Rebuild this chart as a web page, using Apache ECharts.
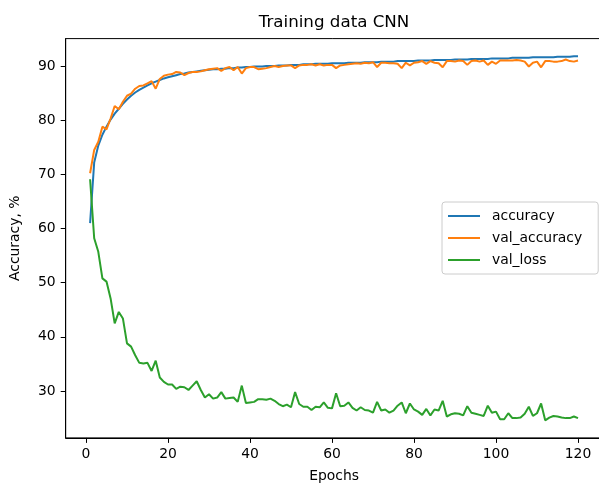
<!DOCTYPE html>
<html>
<head>
<meta charset="utf-8">
<title>Training data CNN</title>
<script src="https://cdn.jsdelivr.net/npm/echarts@6/dist/echarts.min.js"></script>
<style>
  html, body { margin: 0; padding: 0; background: #fff; }
  #chart { width: 599px; height: 485px; }
</style>
</head>
<body>
<div id="chart"></div>
<script>
// values, epochs 1..120
var accuracy = [
  61.0, 72.2, 75.3, 77.3, 78.8, 80.1, 81.2, 82.1, 83.0, 83.8,
  84.5, 85.1, 85.6, 86.0, 86.4, 86.8, 87.1, 87.4, 87.7, 87.9,
  88.1, 88.3, 88.5, 88.6, 88.8, 88.9, 89.0, 89.1, 89.2, 89.3,
  89.4, 89.4, 89.5, 89.5, 89.6, 89.6, 89.7, 89.7, 89.8, 89.8,
  89.9, 89.9, 89.9, 90.0, 90.0, 90.0, 90.1, 90.1, 90.1, 90.2,
  90.2, 90.2, 90.3, 90.3, 90.3, 90.4, 90.4, 90.4, 90.4, 90.5,
  90.5, 90.5, 90.5, 90.6, 90.6, 90.6, 90.6, 90.7, 90.7, 90.7,
  90.7, 90.8, 90.8, 90.8, 90.8, 90.9, 90.9, 90.9, 90.9, 90.9,
  91.0, 91.0, 91.0, 91.0, 91.1, 91.1, 91.1, 91.1, 91.1, 91.2,
  91.2, 91.2, 91.2, 91.3, 91.3, 91.3, 91.3, 91.3, 91.4, 91.4,
  91.4, 91.4, 91.4, 91.5, 91.5, 91.5, 91.5, 91.5, 91.6, 91.6,
  91.6, 91.6, 91.6, 91.6, 91.7, 91.7, 91.7, 91.7, 91.8, 91.8
];
var valAccuracy = [
  70.2, 74.5, 76.0, 78.8, 78.3, 80.3, 82.6, 82.0, 83.4, 84.5,
  84.9, 85.8, 86.3, 86.4, 86.8, 87.2, 85.8, 87.6, 88.2, 88.4,
  88.5, 88.9, 88.8, 88.3, 88.7, 88.9, 88.9, 89.0, 89.2, 89.4,
  89.5, 89.6, 89.1, 89.6, 89.8, 89.2, 89.8, 88.6, 89.6, 89.8,
  89.8, 89.4, 89.5, 89.6, 89.8, 90.0, 89.8, 90.0, 90.1, 90.1,
  89.6, 90.1, 90.2, 90.2, 90.3, 90.1, 90.3, 90.1, 90.2, 90.2,
  89.6, 90.1, 90.2, 90.3, 90.4, 90.5, 90.4, 90.6, 90.5, 90.7,
  89.8, 90.6, 90.6, 90.5, 90.5, 90.4, 89.6, 90.6, 90.1, 90.6,
  90.7, 90.9, 90.4, 90.9, 90.6, 90.5, 89.75, 90.9, 90.9, 90.8,
  91.0, 90.9, 90.2, 90.9, 91.0, 90.8, 91.0, 90.2, 90.8, 90.4,
  91.0, 91.0, 91.0, 91.0, 91.1, 91.0, 90.8, 89.9, 90.6, 90.8,
  89.75, 90.9, 90.9, 90.8, 90.8, 90.9, 91.2, 90.9, 90.8, 91.0
];
var valLoss = [
  69.1, 58.2, 55.7, 50.8, 50.2, 47.1, 42.5, 44.6, 43.4, 38.8,
  38.2, 36.6, 35.2, 35.1, 35.2, 33.7, 35.6, 32.5, 31.7, 31.2,
  31.2, 30.4, 30.8, 30.7, 30.2, 31.0, 31.8, 30.2, 28.8, 29.4,
  28.6, 28.8, 29.8, 28.6, 28.7, 28.8, 28.0, 31.0, 27.8, 27.9,
  28.0, 28.5, 28.5, 28.4, 28.6, 28.2, 27.6, 27.2, 27.5, 27.0,
  29.8, 27.6, 27.1, 27.1, 26.5, 27.1, 27.0, 27.9, 26.9, 26.8,
  29.6, 27.2, 27.3, 27.9, 26.9, 26.4, 27.0, 26.5, 26.4, 26.0,
  28.0, 26.4, 26.6, 26.0, 26.4, 27.3, 27.9, 25.9, 27.7, 26.6,
  26.2, 25.6, 26.7, 25.5, 26.6, 26.4, 28.2, 25.3, 25.7, 25.9,
  25.8, 25.5, 27.2, 26.0, 25.8, 25.6, 25.4, 27.3, 26.0, 26.2,
  24.8, 24.8, 25.9, 25.0, 25.0, 25.1, 25.8, 27.1, 25.4, 25.9,
  27.7, 24.6, 25.1, 25.4, 25.3, 25.1, 25.0, 25.0, 25.3, 25.0
];
var xTicks = [0, 20, 40, 60, 80, 100, 120];
var yTicks = [30, 40, 50, 60, 70, 80, 90];

function withEpochs(values) {
  return values.map(function (v, i) { return [i + 1, v]; });
}

var font = 'DejaVu Sans';
var chart = echarts.init(document.getElementById('chart'), null, { renderer: 'canvas' });

var option = {
  backgroundColor: '#ffffff',
  animation: false,
  color: ['#1f77b4', '#ff7f0e', '#2ca02c'],
  title: {
    text: 'Training data CNN',
    left: 334,
    top: 14,
    textAlign: 'center',
    padding: 0,
    textStyle: { fontFamily: font, fontSize: 16.7, fontWeight: 'normal', color: '#000' }
  },
  legend: {
    orient: 'vertical',
    left: 442,
    top: 202,
    padding: [7, 16, 7, 6],
    icon: 'rect',
    itemWidth: 32,
    itemHeight: 2,
    itemGap: 8,
    backgroundColor: 'rgba(255,255,255,0.8)',
    borderColor: '#cccccc',
    borderWidth: 1,
    borderRadius: 3,
    textStyle: { fontFamily: font, fontSize: 13.9, color: '#000', padding: [0, 0, 0, 7], lineHeight: 14 },
    data: ['accuracy', 'val_accuracy', 'val_loss']
  },
  grid: {
    left: 65.7,
    top: 38.6,
    width: 536.7,
    height: 399.3,
    outerBoundsMode: 'none',
    show: true,
    borderColor: '#000',
    borderWidth: 1
  },
  xAxis: {
    type: 'value',
    min: -4.95,
    max: 125.95,
    name: 'Epochs',
    nameLocation: 'middle',
    nameGap: 31,
    nameTextStyle: { fontFamily: font, fontSize: 13.9, color: '#000' },
    axisLine: { show: true, onZero: false, lineStyle: { color: '#000', width: 1 } },
    axisTick: { show: true, length: 5, lineStyle: { color: '#000' }, customValues: xTicks },
    axisLabel: { margin: 9, fontFamily: font, fontSize: 13.9, color: '#000', customValues: xTicks },
    splitLine: { show: false }
  },
  yAxis: {
    type: 'value',
    min: 21.35,
    max: 95.05,
    name: 'Accuracy, %',
    nameLocation: 'middle',
    nameGap: 43,
    nameTextStyle: { fontFamily: font, fontSize: 13.9, color: '#000' },
    axisLine: { show: true, onZero: false, lineStyle: { color: '#000', width: 1 } },
    axisTick: { show: true, length: 5, lineStyle: { color: '#000' }, customValues: yTicks },
    axisLabel: { margin: 10, fontFamily: font, fontSize: 13.9, color: '#000', customValues: yTicks },
    splitLine: { show: false }
  },
  series: [
    {
      name: 'accuracy',
      type: 'line',
      showSymbol: false,
      symbol: 'none',
      lineStyle: { width: 2 },
      data: withEpochs(accuracy)
    },
    {
      name: 'val_accuracy',
      type: 'line',
      showSymbol: false,
      symbol: 'none',
      lineStyle: { width: 2 },
      data: withEpochs(valAccuracy)
    },
    {
      name: 'val_loss',
      type: 'line',
      showSymbol: false,
      symbol: 'none',
      lineStyle: { width: 2 },
      data: withEpochs(valLoss)
    }
  ]
};

chart.setOption(option);
</script>
</body>
</html>
